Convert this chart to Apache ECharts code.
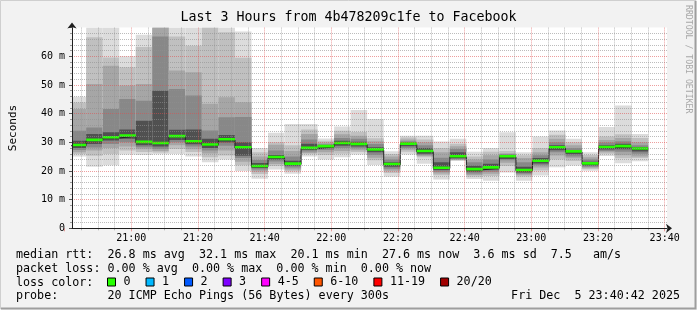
<!DOCTYPE html>
<html><head><meta charset="utf-8">
<script src="https://cdn.jsdelivr.net/npm/echarts@6/dist/echarts.min.js"></script>
<style>html,body{margin:0;padding:0;background:#f2f2f2}#c{width:697px;height:310px}</style>
</head><body><div id="c"></div><script>
// ---- data ----
const titleText = 'Last 3 Hours from 4b478209c1fe to Facebook';
const rangeStart = '20:40:42';
const rangeEnd = '23:40:42';
const stepMinutes = 5;
const stepEnd = ['20:45','20:50','20:55','21:00','21:05','21:10','21:15','21:20','21:25','21:30','21:35','21:40',
  '21:45','21:50','21:55','22:00','22:05','22:10','22:15','22:20','22:25','22:30','22:35','22:40',
  '22:45','22:50','22:55','23:00','23:05','23:10','23:15','23:20','23:25','23:30','23:35'];
const median = [28.8,30.6,31.5,32.1,29.9,29.5,31.9,30.1,29.0,30.8,28.0,21.5,24.6,22.3,27.8,28.4,29.5,29.2,27.3,22.2,29.3,26.7,20.9,24.9,20.4,21.0,24.9,20.1,23.3,28.0,26.6,22.4,28.1,28.4,27.6];
const band1Hi = [45.9,70,70,60.0,67.5,70,70,70,70,70,68.6,28.0,33.3,36.4,36.4,31.3,35.5,41.3,38.1,26.9,32.3,32.3,30.3,31.2,26.7,28.0,33.5,26.5,32.0,34.1,31.2,26.5,35.3,42.8,32.9];
const band2Hi = [43.9,66.6,59.6,56.2,63.2,70,66.9,63.7,70,68.4,59.5,26.5,30.0,29.0,34.5,30.5,34.0,33.6,31.4,25.9,31.7,31.0,28.0,29.5,25.0,26.7,27.0,25.5,28.0,32.6,30.0,25.6,32.0,32.8,31.5];
const band3Hi = [41.6,50.3,56.7,49.8,50.3,70,55.0,54.4,43.4,45.7,44.0,25.0,29.1,27.0,32.9,29.9,32.8,32.3,30.4,25.0,31.0,30.0,26.5,28.6,24.0,25.5,26.2,24.5,26.5,31.2,29.0,24.8,30.8,31.5,30.0];
const band4Hi = [34.0,35.2,41.6,45.1,44.5,66.9,48.6,46.3,34.1,38.7,38.8,23.8,27.1,25.0,31.0,29.3,31.5,31.2,29.4,24.0,30.4,29.0,24.6,27.7,23.0,24.0,25.9,23.0,25.5,30.0,28.0,24.0,29.9,30.4,29.0];
const coreHi  = [30.5,32.9,33.5,34.5,37.5,48.0,34.4,34.5,31.2,32.5,30.0,22.8,25.6,23.6,29.5,28.9,30.5,30.2,28.3,23.0,29.9,28.0,23.0,26.5,21.8,22.5,25.5,21.5,24.5,29.0,27.2,23.2,29.0,29.5,28.3];
const coreLo  = [28.0,29.4,30.6,31.2,29.0,28.5,30.8,29.3,28.0,29.9,25.3,21.0,24.0,21.8,27.3,27.9,28.8,28.5,26.5,21.5,28.6,26.0,20.3,24.4,19.7,20.4,24.2,19.5,22.6,27.2,25.8,21.9,27.5,27.6,26.8];
const band4Lo = [27.3,28.2,29.4,30.0,28.3,27.7,30.0,28.5,27.1,28.8,24.5,20.5,23.3,21.2,26.8,27.3,28.0,27.9,25.6,20.8,28.0,25.6,19.7,24.1,19.1,19.7,23.7,19.0,22.0,26.5,25.0,21.5,27.0,26.7,26.0];
const band3Lo = [26.5,27.1,28.0,28.5,27.6,27.0,29.0,27.6,26.1,27.1,23.2,19.8,22.4,20.5,26.3,26.5,27.0,27.2,24.6,20.1,27.4,25.2,19.1,23.9,18.6,19.0,22.9,18.5,21.2,25.4,24.4,21.1,26.5,25.5,25.0];
const band2Lo = [25.9,25.3,25.9,27.1,26.6,26.4,27.7,26.6,24.8,25.4,22.0,18.9,21.7,19.9,25.8,25.6,26.0,26.6,23.7,19.3,26.7,24.8,18.5,23.7,18.0,18.2,21.7,18.0,20.2,24.0,23.5,20.7,26.0,24.4,24.5];
const band1Lo = [25.0,21.5,22.0,25.7,25.6,25.8,25.9,25.0,23.0,24.0,20.0,17.3,20.5,19.0,25.0,24.0,24.8,25.7,22.1,18.0,25.7,22.5,17.0,23.5,17.2,16.6,19.5,16.6,18.4,21.3,21.9,20.1,25.2,22.7,23.4];
const lossNames = ['0','1','2','3','4-5','6-10','11-19','20/20'];
const yTicksMax = 70, yInterval = 10, xLabelInterval = 20;
const statsLine = 'median rtt:  26.8 ms avg  32.1 ms max  20.1 ms min  27.6 ms now  3.6 ms sd  7.5   am/s';
const lossLine = 'packet loss: 0.00 % avg  0.00 % max  0.00 % min  0.00 % now';
const lossColorLabel = 'loss color:';
const probeLabel = 'probe:';
const probeText = '20 ICMP Echo Pings (56 Bytes) every 300s';
const dateText = 'Fri Dec  5 23:40:42 2025';
const creditText = 'RRDTOOL / TOBI OETIKER';

// ---- styles ----
const lossColors = ['#26ff00','#00b8ff','#0059ff','#7e00ff','#ff00ff','#ff5500','#ff0000','#a10000'];
const bandColors = ['#dcdcdc','#c0c0c0','#a6a6a6','#888888','#505050'];
const mono = '"DejaVu Sans Mono", monospace';
const gridColor = 'rgba(143,143,143,0.6)';
const mgridColor = 'rgba(222,79,79,0.55)';

function toMin(s){const p=s.split(':').map(Number);return p[0]*60+p[1]+(p[2]||0)/60;}
const xMin = toMin(rangeStart), xMax = toMin(rangeEnd);
const gLeft = 67, gWidth = 600, gTop = 27.6, gHeight = 200.7;
const gridAxisMin = Math.floor(xMin / xLabelInterval) * xLabelInterval;
const gridAxisMax = gridAxisMin + (xMax - xMin);
const shift = (xMin - gridAxisMin) / (xMax - xMin) * gWidth;

const ends = stepEnd.map(toMin);
const smokeData = ends.map((e,i)=>[e-stepMinutes, e, band1Lo[i],band1Hi[i],band2Lo[i],band2Hi[i],band3Lo[i],band3Hi[i],band4Lo[i],band4Hi[i],coreLo[i],coreHi[i]]);
const medData = ends.map((e,i)=>[e-stepMinutes, e, median[i]]);
const stepLine = ends.map((e,i)=>[e-stepMinutes, median[i]]).concat([[ends[ends.length-1], median[median.length-1]]]);

function hhmm(v){v=Math.round(v);const h=Math.floor(v/60),m=v%60;return h+':'+(m<10?'0':'')+m;}

const series = [
  {type:'custom', name:'smoke', xAxisIndex:0, yAxisIndex:0, clip:true, silent:true, z:2,
   data: smokeData, encode:{x:[0,1], y:[2,3]},
   renderItem(params, api){
     const t0=api.value(0), t1=api.value(1); const ch=[];
     for(let b=0;b<5;b++){
       const lo=api.value(2+2*b), hi=api.value(3+2*b);
       const p0=api.coord([t0,hi]), p1=api.coord([t1,lo]);
       ch.push({type:'rect', shape:{x:p0[0],y:p0[1],width:p1[0]-p0[0],height:p1[1]-p0[1]}, style:{fill:bandColors[b]}});
     }
     return {type:'group', children:ch};
   }},
  {type:'line', name:'medianline', xAxisIndex:0, yAxisIndex:0, step:'end', data:stepLine, symbol:'none', silent:true, z:3,
   lineStyle:{color:'#202020', width:1}},
  {type:'custom', name:lossNames[0], xAxisIndex:0, yAxisIndex:0, clip:true, silent:true, z:4,
   itemStyle:{color:lossColors[0]}, data: medData, encode:{x:[0,1], y:[2]},
   renderItem(params, api){
     const p0=api.coord([api.value(0), api.value(2)]), p1=api.coord([api.value(1), api.value(2)]);
     return {type:'rect', shape:{x:p0[0], y:p0[1]-2, width:p1[0]-p0[0], height:2.6}, style:{fill:lossColors[0]}};
   }}
];
for(let i=1;i<lossNames.length;i++){
  series.push({type:'line', name:lossNames[i], xAxisIndex:0, yAxisIndex:0, data:[], itemStyle:{color:lossColors[i]}, lineStyle:{color:lossColors[i]}});
}

const option = {
  animation:false,
  backgroundColor:'#f2f2f2',
  title:{text:titleText, left:'center', top:11, padding:0,
    textStyle:{fontFamily:mono, fontSize:13.3, fontWeight:'normal', color:'#000'}},
  grid:[
    {left:gLeft, top:gTop, width:gWidth, height:gHeight, show:true, backgroundColor:'#ffffff', borderWidth:0},
    {left:gLeft-shift, top:gTop, width:gWidth, height:gHeight}
  ],
  xAxis:[
    {type:'value', gridIndex:0, min:xMin, max:xMax, z:6,
     axisLine:{show:true, lineStyle:{color:'#1f1f1f', width:1}, symbol:['none','arrow'], symbolSize:[7,6], symbolOffset:[0,5]},
     axisTick:{show:false}, axisLabel:{show:false}, splitLine:{show:false}},
    {type:'value', gridIndex:1, min:gridAxisMin, max:gridAxisMax, interval:xLabelInterval, z:5,
     axisLine:{show:false},
     axisTick:{show:true, length:3, lineStyle:{color:mgridColor}},
     minorTick:{show:true, splitNumber:4, length:2, lineStyle:{color:gridColor}},
     axisLabel:{show:true, formatter:hhmm, showMinLabel:false, margin:5, fontFamily:mono, fontSize:10, color:'#000'},
     splitLine:{show:true, showMinLine:false, lineStyle:{color:mgridColor, type:[1,1], width:1}},
     minorSplitLine:{show:true, lineStyle:{color:gridColor, type:[1,1], width:1}}}
  ],
  yAxis:[
    {type:'value', gridIndex:0, min:0, max:yTicksMax, interval:yInterval, z:5,
     name:'Seconds', nameLocation:'middle', nameGap:53, nameRotate:90,
     nameTextStyle:{fontFamily:mono, fontSize:11, color:'#000'},
     axisLine:{show:true, lineStyle:{color:'#1f1f1f', width:1}, symbol:['none','arrow'], symbolSize:[7,6], symbolOffset:[0,5]},
     axisTick:{show:true, length:3, lineStyle:{color:'#555'}},
     minorTick:{show:true, splitNumber:5, length:2, lineStyle:{color:'#999'}},
     axisLabel:{formatter:v=>v===0?'0':v+' m', showMaxLabel:false, margin:7, fontFamily:mono, fontSize:10, color:'#000'},
     splitLine:{show:true, showMinLine:false, showMaxLine:false, lineStyle:{color:mgridColor, type:[1,1], width:1}},
     minorSplitLine:{show:true, lineStyle:{color:gridColor, type:[1,1], width:1}}},
    {type:'value', gridIndex:1, min:0, max:yTicksMax, show:false}
  ],
  legend:{data:lossNames, left:107, top:276, padding:0, icon:'rect', itemWidth:8, itemHeight:8, itemGap:15,
    selectedMode:false, itemStyle:{borderColor:'#000', borderWidth:1},
    textStyle:{fontFamily:mono, fontSize:11.7, color:'#000', padding:[0,0,0,3]}},
  graphic:[
    {type:'text', x:16, y:255, style:{text:statsLine, font:'11.7px '+mono, fill:'#000', verticalAlign:'middle'}},
    {type:'text', x:16, y:269, style:{text:lossLine, font:'11.7px '+mono, fill:'#000', verticalAlign:'middle'}},
    {type:'text', x:16, y:283, style:{text:lossColorLabel, font:'11.7px '+mono, fill:'#000', verticalAlign:'middle'}},
    {type:'text', x:16, y:296, style:{text:probeLabel, font:'11.7px '+mono, fill:'#000', verticalAlign:'middle'}},
    {type:'text', x:107.5, y:296, style:{text:probeText, font:'11.7px '+mono, fill:'#000', verticalAlign:'middle'}},
    {type:'text', x:680, y:296, style:{text:dateText, font:'11.7px '+mono, fill:'#000', verticalAlign:'middle', align:'right'}},
    {type:'text', x:688, y:5, rotation:-Math.PI/2, style:{text:creditText, font:'8.2px '+mono, fill:'#a8a8a8', verticalAlign:'middle'}},
    {type:'polyline', shape:{points:[[0.5,309],[0.5,0.5],[696,0.5]]}, style:{stroke:'#cfcfcf', lineWidth:1, fill:null}},
    {type:'polyline', shape:{points:[[1,308.5],[695.5,308.5],[695.5,1]]}, style:{stroke:'#9e9e9e', lineWidth:2, fill:null}}
  ],
  series:series
};
const chart = echarts.init(document.getElementById('c'), null, {renderer:'canvas'});
chart.setOption(option);
</script></body></html>
